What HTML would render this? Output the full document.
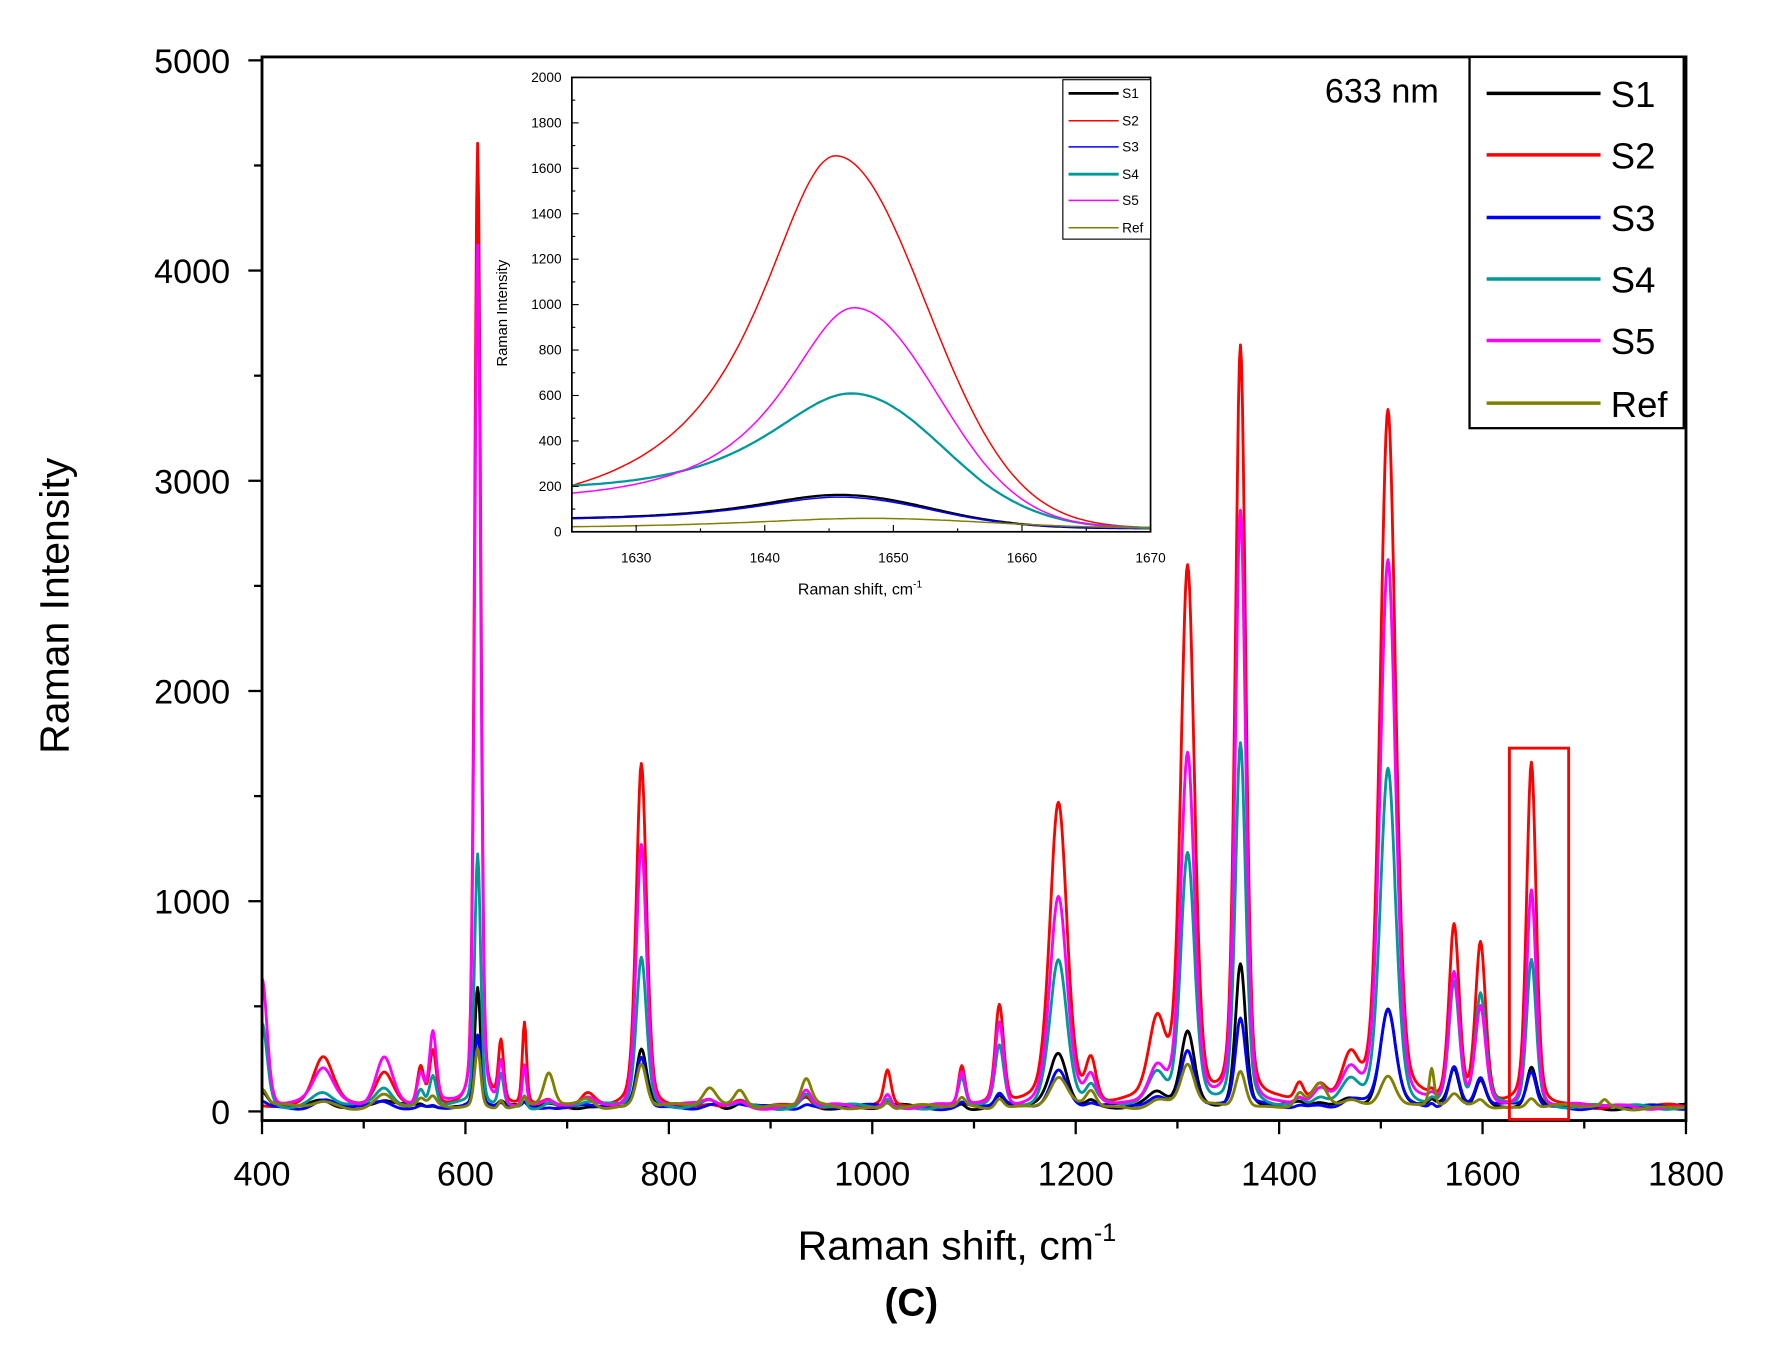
<!DOCTYPE html>
<html><head><meta charset="utf-8"><style>
html,body{margin:0;padding:0;background:#fff;}
svg{display:block;font-family:"Liberation Sans",Arial,sans-serif;}
</style></head><body>
<svg id="s" width="1768" height="1346" viewBox="0 0 1552 1182" preserveAspectRatio="none">
<rect width="1552" height="1182" fill="#fff"/>
<g id="main"></g>
<rect x="230" y="50" width="1250" height="934" fill="none" stroke="#000" stroke-width="2.5"/>
<g id="ticks" stroke="#000" stroke-width="2"></g>
<g font-size="30" fill="#000" id="labels"></g>
<text x="60" y="532" font-size="36" text-anchor="middle" transform="rotate(-90 60 532)">Raman Intensity</text>
<text x="840" y="1106" font-size="36" text-anchor="middle">Raman shift, cm<tspan font-size="22" dy="-16">-1</tspan></text>
<text x="800" y="1155" font-size="34" font-weight="bold" text-anchor="middle">(C)</text>
<rect x="1325" y="657" width="52" height="326" fill="none" stroke="#f00" stroke-width="2.5"/>
<text x="1163" y="90" font-size="30">633 nm</text>
<rect x="1290" y="50" width="188" height="326" fill="#fff" stroke="#000" stroke-width="2"/>
<g id="leg"></g>
<rect x="502" y="68" width="508" height="399" fill="#fff"/>
<g id="inset"></g>
<rect x="502" y="68" width="508" height="399" fill="none" stroke="#000" stroke-width="1.5"/>
<g id="iticks" stroke="#000" stroke-width="1"></g>
<g id="ilabels" font-size="12"></g>
<text x="445" y="275" font-size="13" text-anchor="middle" transform="rotate(-90 445 275)">Raman Intensity</text>
<text x="755" y="522" font-size="14" text-anchor="middle">Raman shift, cm<tspan font-size="9" dy="-6">-1</tspan></text>
<rect x="933" y="70" width="77" height="140" fill="#fff" stroke="#000" stroke-width="1"/>
<g id="ileg"></g>
</svg>
<script>
var NS="http://www.w3.org/2000/svg";
function el(t,a,p,txt){var e=document.createElementNS(NS,t);for(var k in a)e.setAttribute(k,a[k]);if(txt!=null)e.textContent=txt;document.getElementById(p).appendChild(e);return e;}
var cols=["#000","#f00","#00f","#099","#f0f","#808000"];
var names=["S1","S2","S3","S4","S5","Ref"];
var P=[
[400,6,[60,0,30,400,620,90]],
[460,12,[40,250,30,60,180,20]],
[520,10,[30,150,20,100,240,60]],
[556,4,[10,190,10,80,150,30]],
[568,4,[10,260,10,150,340,40]],
[612,3.5,[580,4580,330,1200,4100,280]],
[635,3,[20,280,20,150,200,40]],
[658,2.5,[20,390,20,60,200,40]],
[682,6,[10,30,10,20,20,160]],
[720,8,[10,60,10,20,30,40]],
[773,6,[270,1620,240,720,1250,210]],
[840,8,[40,20,10,20,30,90]],
[870,7,[20,20,10,20,20,90]],
[935,6,[40,60,20,60,80,130]],
[1015,4,[20,160,20,40,60,30]],
[1088,4,[20,200,20,130,160,40]],
[1125,5,[50,470,60,280,400,50]],
[1183,10,[250,1450,180,700,1000,130]],
[1215,6,[30,200,20,80,120,80]],
[1280,10,[60,380,40,150,180,30]],
[1310,8,[350,2550,280,1200,1660,200]],
[1362,6,[680,3600,420,1710,2820,180]],
[1420,5,[10,90,10,30,30,60]],
[1440,8,[20,80,10,40,60,100]],
[1470,10,[40,220,30,100,150,30]],
[1507,9,[460,3300,460,1600,2600,160]],
[1550,3,[20,20,20,20,20,180]],
[1572,6,[180,850,190,580,620,50]],
[1598,6,[130,760,140,520,450,40]],
[1648,5.5,[180,1620,170,700,1030,50]],
[1720,4,[0,0,0,0,0,30]]
];
function X(v){return 230+(v-400)*1250/1400;}
function Y(i){return 976-i*923/5000;}
for(var s=0;s<6;s++){
 var d="";
 for(var v=400;v<=1800;v+=1){
  var I=20+8*Math.sin(v*0.05+s)+6*Math.sin(v*0.13+2*s);
  for(var k=0;k<P.length;k++){var q=P[k],dx=(v-q[0])/q[1];I+=q[2][s]*(0.3/(1+dx*dx)+0.7*Math.exp(-dx*dx*0.693));}
  d+=(v==400?"M":"L")+X(v).toFixed(1)+" "+Y(I).toFixed(1);
 }
 el("path",{d:d,fill:"none",stroke:cols[s],"stroke-width":2.5,"stroke-linejoin":"round"},"main");
}
for(var v=400;v<=1800;v+=100){var x=X(v);el("line",{x1:x,y1:984,x2:x,y2:v%200==0?996:991},"ticks");
 if(v%200==0)el("text",{x:x,y:1041,"text-anchor":"middle"},"labels",v);}
for(var i=0;i<=5000;i+=500){var y=Y(i);el("line",{x1:230,y1:y,x2:i%1000==0?218:223,y2:y},"ticks");
 if(i%1000==0)el("text",{x:202,y:y+11,"text-anchor":"end"},"labels",i);}
var ly=[82,136,191,245,299,354];
for(var s=0;s<6;s++){el("line",{x1:1305,y1:ly[s],x2:1405,y2:ly[s],stroke:cols[s],"stroke-width":3},"leg");
 el("text",{x:1414,y:ly[s]+12,"font-size":32},"leg",names[s]);}
function IX(v){return 502+(v-1625)*508/45;}
function IY(i){return 467-i*399/2000;}
// h, center, left width, right sigma, left base
var ip=[[140,1646,9,7,45],[1640,1645.5,7.4,7,15],[130,1646,9,7,45],[560,1647,9,7,150],[950,1647,7,6.5,100],[45,1648,12,9,12]];
for(var s=0;s<6;s++){var q=ip[s],d="";
 for(var v=1625;v<=1670;v+=0.25){var dx=v-q[1],I;
  var base=15+(q[4]-15)*Math.max(0,Math.min(1,(q[1]+10-v)/40));
  if(dx<0){I=q[0]/(1+(dx/q[2])*(dx/q[2]));}
  else{I=q[0]*Math.exp(-dx*dx/(2*q[3]*q[3]));}
  I+=base;
  d+=(v==1625?"M":"L")+IX(v).toFixed(1)+" "+IY(I).toFixed(1);}
 el("path",{d:d,fill:"none",stroke:cols[s],"stroke-width":(s==0||s==3)?2:1.3},"inset");}
for(var v=1625;v<=1670;v+=5){var x=IX(v);el("line",{x1:x,y1:467,x2:x,y2:v%10==0?461:464},"iticks");
 if(v%10==0)el("text",{x:x,y:494,"text-anchor":"middle"},"ilabels",v);}
for(var i=0;i<=2000;i+=100){var y=IY(i);el("line",{x1:502,y1:y,x2:i%200==0?508:505,y2:y},"iticks");
 if(i%200==0)el("text",{x:493,y:y+4,"text-anchor":"end"},"ilabels",i);}
var iy=[82,106,129,153,176,200];
for(var s=0;s<6;s++){el("line",{x1:938,y1:iy[s],x2:982,y2:iy[s],stroke:cols[s],"stroke-width":(s==0||s==3)?2.5:1.3},"ileg");
 el("text",{x:985,y:iy[s]+4,"font-size":12},"ileg",names[s]);}
</script>
</body></html>
